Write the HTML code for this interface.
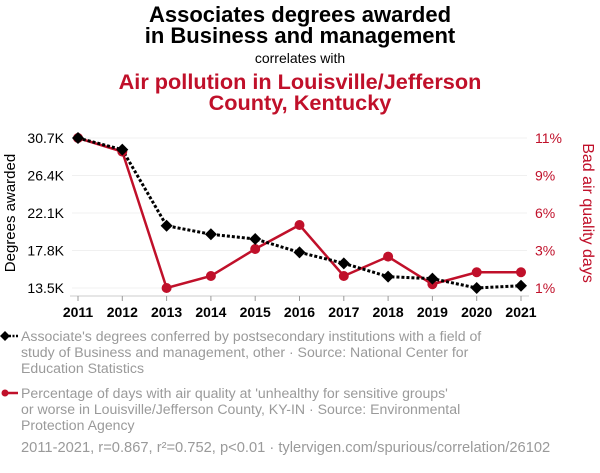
<!DOCTYPE html>
<html><head><meta charset="utf-8"><style>
body{margin:0;background:#fff;width:600px;height:468px;overflow:hidden;font-family:"Liberation Sans",Arial,sans-serif}
</style></head><body>
<svg id="chart" width="600" height="468" xmlns="http://www.w3.org/2000/svg" font-family="Liberation Sans, Arial, sans-serif">
<g text-anchor="middle" font-weight="bold" font-size="22" fill="#000">
<text x="300" y="22">Associates degrees awarded</text>
<text x="300" y="43">in Business and management</text>
</g>
<text x="300" y="63" text-anchor="middle" font-size="14" fill="#000">correlates with</text>
<g text-anchor="middle" font-weight="bold" font-size="21.7" fill="#c0102a">
<text x="300" y="89">Air pollution in Louisville/Jefferson</text>
<text x="300" y="110">County, Kentucky</text>
</g>
<g id="grid"></g>
<g id="axes"></g>
<g id="series"></g>
<text transform="translate(15,213) rotate(-90)" text-anchor="middle" font-size="15" fill="#000">Degrees awarded</text>
<text transform="translate(583,213) rotate(90)" text-anchor="middle" font-size="16" fill="#c0102a">Bad air quality days</text>
<g font-size="14.1" fill="#9a9a9a">
<line x1="2" y1="336" x2="19" y2="336" stroke="#000" stroke-width="2.5" stroke-dasharray="2,1.5"/>
<path d="M5,331 L10,336 L5,341 L0,336Z" fill="#000"/>
<text x="21" y="341">Associate's degrees conferred by postsecondary institutions with a field of</text>
<text x="21" y="357">study of Business and management, other · Source: National Center for</text>
<text x="21" y="373">Education Statistics</text>
</g>
<g font-size="14.1" fill="#9a9a9a">
<line x1="2" y1="393" x2="18" y2="393" stroke="#c0102a" stroke-width="2.5"/>
<circle cx="5" cy="393" r="3.5" fill="#c0102a"/>
<text x="21" y="398">Percentage of days with air quality at 'unhealthy for sensitive groups'</text>
<text x="21" y="414">or worse in Louisville/Jefferson County, KY-IN · Source: Environmental</text>
<text x="21" y="430">Protection Agency</text>
</g>
<text x="21" y="452" font-size="14.7" fill="#9a9a9a">2011-2021, r=0.867, r²=0.752, p&lt;0.01 · tylervigen.com/spurious/correlation/26102</text>
</svg>
<script>
const years=[2011,2012,2013,2014,2015,2016,2017,2018,2019,2020,2021];
const degrees=[30.7,29.36,20.64,19.66,19.12,17.59,16.33,14.8,14.57,13.5,13.76];
const airPct=[11,10.09,1,1.8,3.6,5.2,1.8,3.09,1.25,2.05,2.05];
const leftTicks=[13.5,17.8,22.1,26.4,30.7];
const leftTickLabels=["13.5K","17.8K","22.1K","26.4K","30.7K"];
const rightTicks=[1,3.5,6,8.5,11];
const rightTickLabels=["1%","3%","6%","9%","11%"];
const NS="http://www.w3.org/2000/svg";
const X0=78,X1=521,YT=138,YB=288;
const xS=y=>X0+(y-years[0])/(years[years.length-1]-years[0])*(X1-X0);
const yL=v=>YB-(v-13.5)/(30.7-13.5)*(YB-YT);
const yR=v=>YB-(v-1)/(11-1)*(YB-YT);
function mk(tag,attrs,parent){const e=document.createElementNS(NS,tag);for(const k in attrs)e.setAttribute(k,attrs[k]);parent.appendChild(e);return e;}
const grid=document.getElementById('grid'),axes=document.getElementById('axes'),ser=document.getElementById('series');
leftTicks.forEach((t,i)=>{
 const y=yL(t);
 const g=mk('line',{x1:X0-6,x2:X1+6,y1:y,y2:y,stroke:'#f0f0f0','stroke-width':1},grid);
 
 
 const tx=mk('text',{x:64,y:y+5,'text-anchor':'end','font-size':14,fill:'#000'},axes);
 tx.textContent=leftTickLabels[i];
 
 
});
rightTicks.forEach((t,i)=>{
 const tx=mk('text',{x:535,y:yR(t)+5,'font-size':14,fill:'#c0102a'},axes);
 tx.textContent=rightTickLabels[i];
 
 
});
const ax=mk('line',{x1:X0-8,x2:X1+8,y1:296,y2:296,stroke:'#ccc','stroke-width':1},axes);


years.forEach(y=>{
 const x=xS(y);
 mk('line',{x1:x,x2:x,y1:296,y2:301,stroke:'#999'},axes);
 const tx=mk('text',{x:x,y:317,'text-anchor':'middle','font-size':14,'font-weight':'bold',fill:'#000'},axes);
 tx.textContent=y;
 
 
});
const rp=mk('polyline',{points:years.map((y,i)=>xS(y)+','+yR(airPct[i])).join(' '),fill:'none',stroke:'#c0102a','stroke-width':2.5},ser);


const bp=mk('polyline',{points:years.map((y,i)=>xS(y)+','+yL(degrees[i])).join(' '),fill:'none',stroke:'#000','stroke-width':3,'stroke-dasharray':'3,2'},ser);


years.forEach((y,i)=>{
 const c=mk('circle',{cx:xS(y),cy:yR(airPct[i]),r:5,fill:'#c0102a'},ser);
 
 
});
years.forEach((y,i)=>{
 const x=xS(y),v=yL(degrees[i]);
 const d=mk('path',{d:`M${x},${v-6}L${x+6},${v}L${x},${v+6}L${x-6},${v}Z`,fill:'#000'},ser);
 
 
});
</script>
</body></html>
